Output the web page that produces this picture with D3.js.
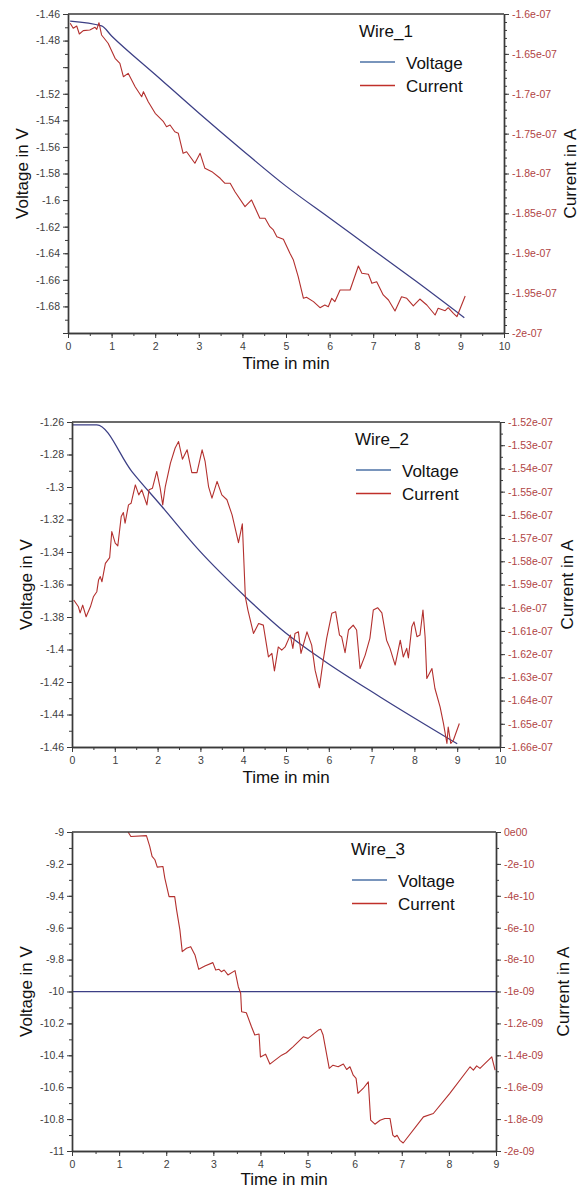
<!DOCTYPE html>
<html><head><meta charset="utf-8">
<script src="https://cdn.jsdelivr.net/npm/d3@7"></script>
<style>body{margin:0;background:#fff}svg{display:block}</style>
</head><body><svg id="c" width="581" height="1190"></svg>
<script>
// ---------- DATA ----------
// time in min, voltage in V
const wire1Voltage = [[0.05,-1.4653],[0.77,-1.469],[1.0,-1.4765],[2,-1.5055],[3,-1.5345],[4,-1.5625],[5,-1.5895],[6,-1.6135],[7,-1.6375],[8,-1.6615],[9.09,-1.6885]];
// current in units of 1e-7 A
const wire1Current = [[0.05,-1.6117],[0.12,-1.6179],[0.20,-1.6150],[0.26,-1.6251],[0.35,-1.6209],[0.50,-1.6201],[0.62,-1.6167],[0.66,-1.6192],[0.71,-1.6109],[0.77,-1.6263],[0.92,-1.6367],[1.08,-1.6555],[1.19,-1.6618],[1.27,-1.6786],[1.38,-1.6744],[1.54,-1.6912],[1.69,-1.7037],[1.73,-1.6974],[1.84,-1.7100],[2.00,-1.7245],[2.19,-1.7350],[2.26,-1.7413],[2.34,-1.7392],[2.45,-1.7476],[2.53,-1.7496],[2.64,-1.7747],[2.72,-1.7727],[2.91,-1.7872],[3.03,-1.7747],[3.14,-1.7935],[3.30,-1.7977],[3.49,-1.8060],[3.60,-1.8123],[3.72,-1.8123],[3.83,-1.8228],[4.06,-1.8416],[4.21,-1.8332],[4.40,-1.8562],[4.52,-1.8562],[4.63,-1.8667],[4.71,-1.8708],[4.79,-1.8792],[4.94,-1.8825],[5.09,-1.9000],[5.17,-1.9085],[5.28,-1.9294],[5.40,-1.9565],[5.47,-1.9552],[5.63,-1.9607],[5.78,-1.9683],[5.89,-1.9649],[5.97,-1.9670],[6.05,-1.9565],[6.12,-1.9607],[6.24,-1.9461],[6.47,-1.9461],[6.66,-1.9160],[6.74,-1.9251],[6.89,-1.9264],[6.97,-1.9377],[7.08,-1.9357],[7.23,-1.9523],[7.35,-1.9586],[7.50,-1.9724],[7.65,-1.9545],[7.77,-1.9565],[7.92,-1.9661],[8.07,-1.9574],[8.23,-1.9649],[8.42,-1.9774],[8.49,-1.9690],[8.65,-1.9720],[8.72,-1.9683],[8.84,-1.9753],[8.92,-1.9796],[9.11,-1.9536]];

const wire2Voltage = [[0,-1.2617],[0.58,-1.2617],[1.4,-1.2905],[2.1,-1.312],[2.96,-1.3387],[4.05,-1.3675],[4.98,-1.3895],[5.87,-1.4066],[7.2,-1.4292],[9.0,-1.458]];
// current in units of 1e-7 A
const wire2Current = [[0.04,-1.5967],[0.15,-1.5996],[0.19,-1.6022],[0.25,-1.5989],[0.33,-1.6039],[0.43,-1.5996],[0.50,-1.5953],[0.58,-1.5931],[0.62,-1.5881],[0.66,-1.5866],[0.70,-1.5888],[0.78,-1.5809],[0.88,-1.5784],[0.93,-1.5672],[1.01,-1.5722],[1.07,-1.5734],[1.15,-1.5607],[1.20,-1.5590],[1.24,-1.5636],[1.32,-1.5557],[1.38,-1.5550],[1.48,-1.5471],[1.56,-1.5514],[1.63,-1.5492],[1.75,-1.5557],[1.80,-1.5492],[1.88,-1.5485],[1.98,-1.5413],[2.06,-1.5485],[2.12,-1.5557],[2.18,-1.5478],[2.30,-1.5377],[2.41,-1.5312],[2.49,-1.5284],[2.58,-1.5360],[2.69,-1.5320],[2.80,-1.5418],[2.92,-1.5418],[3.04,-1.5320],[3.11,-1.5370],[3.19,-1.5478],[3.27,-1.5528],[3.39,-1.5456],[3.50,-1.5514],[3.62,-1.5535],[3.74,-1.5600],[3.89,-1.5720],[3.98,-1.5639],[4.05,-1.5953],[4.11,-1.6010],[4.24,-1.6111],[4.36,-1.6068],[4.47,-1.6075],[4.59,-1.6212],[4.67,-1.6197],[4.73,-1.6272],[4.82,-1.6169],[4.90,-1.6183],[4.98,-1.6169],[5.10,-1.6118],[5.16,-1.6175],[5.21,-1.6111],[5.29,-1.6104],[5.35,-1.6197],[5.49,-1.6104],[5.60,-1.6161],[5.68,-1.6269],[5.78,-1.6345],[5.87,-1.6226],[5.95,-1.6132],[6.07,-1.6024],[6.16,-1.6017],[6.25,-1.6118],[6.30,-1.6125],[6.38,-1.6194],[6.46,-1.6096],[6.57,-1.6075],[6.65,-1.6096],[6.73,-1.6262],[6.85,-1.6204],[6.96,-1.6132],[7.04,-1.6010],[7.14,-1.6000],[7.24,-1.6022],[7.35,-1.6140],[7.43,-1.6175],[7.55,-1.6247],[7.67,-1.6140],[7.74,-1.6212],[7.82,-1.6175],[7.86,-1.6216],[7.94,-1.6082],[7.99,-1.6061],[8.06,-1.6125],[8.13,-1.6118],[8.20,-1.6010],[8.25,-1.6125],[8.29,-1.6305],[8.41,-1.6262],[8.48,-1.6348],[8.60,-1.6427],[8.68,-1.6499],[8.76,-1.6585],[8.79,-1.6514],[8.85,-1.6585],[8.91,-1.6571],[9.05,-1.6499]];

const wire3Voltage = [[0,-10],[9,-10]];
// current in units of 1e-9 A
const wire3Current = [[1.19,0],[1.25,-0.028],[1.58,-0.023],[1.65,-0.090],[1.70,-0.153],[1.76,-0.174],[1.81,-0.220],[1.93,-0.216],[1.97,-0.289],[2.06,-0.405],[2.18,-0.405],[2.22,-0.488],[2.29,-0.614],[2.34,-0.750],[2.43,-0.729],[2.52,-0.719],[2.61,-0.771],[2.69,-0.861],[2.82,-0.840],[2.99,-0.819],[3.05,-0.865],[3.12,-0.861],[3.17,-0.876],[3.23,-0.865],[3.31,-0.896],[3.46,-0.869],[3.53,-0.970],[3.58,-1.011],[3.60,-1.127],[3.70,-1.133],[3.81,-1.221],[3.88,-1.273],[3.97,-1.267],[4.00,-1.410],[4.11,-1.393],[4.20,-1.455],[4.31,-1.430],[4.45,-1.399],[4.55,-1.384],[4.69,-1.347],[4.91,-1.284],[5.01,-1.294],[5.23,-1.242],[5.28,-1.236],[5.33,-1.273],[5.46,-1.482],[5.54,-1.462],[5.65,-1.472],[5.76,-1.455],[5.83,-1.489],[5.90,-1.472],[5.97,-1.525],[6.03,-1.545],[6.07,-1.639],[6.18,-1.608],[6.29,-1.567],[6.34,-1.807],[6.43,-1.832],[6.54,-1.807],[6.64,-1.796],[6.75,-1.796],[6.81,-1.901],[6.85,-1.912],[6.90,-1.901],[6.96,-1.933],[7.03,-1.950],[7.46,-1.786],[7.67,-1.765],[8.02,-1.639],[8.45,-1.472],[8.52,-1.493],[8.59,-1.466],[8.66,-1.482],[8.91,-1.410],[8.98,-1.493]];

// tick values and labels
const xTicks10 = [0,1,2,3,4,5,6,7,8,9,10];
const xTicks9 = [0,1,2,3,4,5,6,7,8,9];
const wire1VTicks = [-1.46,-1.48,-1.5,-1.52,-1.54,-1.56,-1.58,-1.6,-1.62,-1.64,-1.66,-1.68,-1.7];
const wire1VLabels = ["-1.46","-1.48","","-1.52","-1.54","-1.56","-1.58","-1.6","-1.62","-1.64","-1.66","-1.68",""];
const wire1ITicks = [-1.6,-1.65,-1.7,-1.75,-1.8,-1.85,-1.9,-1.95,-2];
const wire1ILabels = ["-1.6e-07","-1.65e-07","-1.7e-07","-1.75e-07","-1.8e-07","-1.85e-07","-1.9e-07","-1.95e-07","-2e-07"];
const wire2VTicks = [-1.26,-1.28,-1.3,-1.32,-1.34,-1.36,-1.38,-1.4,-1.42,-1.44,-1.46];
const wire2VLabels = ["-1.26","-1.28","-1.3","-1.32","-1.34","-1.36","-1.38","-1.4","-1.42","-1.44","-1.46"];
const wire2ITicks = [-1.52,-1.53,-1.54,-1.55,-1.56,-1.57,-1.58,-1.59,-1.6,-1.61,-1.62,-1.63,-1.64,-1.65,-1.66];
const wire2ILabels = ["-1.52e-07","-1.53e-07","-1.54e-07","-1.55e-07","-1.56e-07","-1.57e-07","-1.58e-07","-1.59e-07","-1.6e-07","-1.61e-07","-1.62e-07","-1.63e-07","-1.64e-07","-1.65e-07","-1.66e-07"];
const wire3VTicks = [-9,-9.2,-9.4,-9.6,-9.8,-10,-10.2,-10.4,-10.6,-10.8,-11];
const wire3VLabels = ["-9","-9.2","-9.4","-9.6","-9.8","-10","-10.2","-10.4","-10.6","-10.8","-11"];
const wire3ITicks = [0,-0.2,-0.4,-0.6,-0.8,-1,-1.2,-1.4,-1.6,-1.8,-2];
const wire3ILabels = ["0e00","-2e-10","-4e-10","-6e-10","-8e-10","-1e-09","-1.2e-09","-1.4e-09","-1.6e-09","-1.8e-09","-2e-09"];

const legendTitles = ["Wire_1","Wire_2","Wire_3"];
const seriesNames = ["Voltage","Current"];

// ---------- STYLE ----------
const FONT = "'Liberation Sans', Arial, sans-serif";
const V_COL = "#3c3f85", I_COL = "#b3302e";
const LEG_V = "#4d72a6", LEG_I = "#c0302a";
const AX_COL = "#3a3a3a", R_LAB = "#b04444", L_LAB = "#404040";

const svg = d3.select("#c");

function minorVals(d0, d1, step){
  const lo = Math.min(d0,d1), hi = Math.max(d0,d1);
  const n = Math.round((hi-lo)/step);
  return d3.range(n+1).map(i => +(lo + i*step).toFixed(6));
}

function panel(o){
  const g = svg.append("g");
  const x = d3.scaleLinear().domain([0,o.xMax]).range([o.l,o.r]);
  const yV = d3.scaleLinear().domain(o.vDom).range([o.b,o.t]);
  const yI = d3.scaleLinear().domain(o.iDom).range([o.b,o.t]);
  const id = "clip"+o.idx;
  svg.append("clipPath").attr("id",id).append("rect")
    .attr("x",o.l).attr("y",o.t).attr("width",o.r-o.l).attr("height",o.b-o.t);

  // lines
  const lineV = d3.line().curve(d3.curveMonotoneX).x(d=>x(d[0])).y(d=>yV(d[1]));
  const lineI = d3.line().x(d=>x(d[0])).y(d=>yI(d[1]));
  g.append("path").attr("clip-path",`url(#${id})`).attr("d",lineV(o.voltage))
    .attr("fill","none").attr("stroke",V_COL).attr("stroke-width",1.25);
  g.append("path").attr("clip-path",`url(#${id})`).attr("d",lineI(o.current))
    .attr("fill","none").attr("stroke",I_COL).attr("stroke-width",1.1).attr("stroke-linejoin","round");

  function styleAxis(sel, labCol){
    sel.attr("font-family",FONT).attr("font-size",10.5).attr("color",AX_COL);
    sel.selectAll("path.domain").attr("stroke",AX_COL).attr("stroke-width",1.4);
    sel.selectAll("line").attr("stroke",AX_COL).attr("stroke-width",1);
    sel.selectAll("text").attr("fill",labCol);
  }
  // minor ticks
  g.append("g").attr("transform",`translate(0,${o.b})`)
    .call(d3.axisBottom(x).tickValues(minorVals(0,o.xMax,0.5)).tickSize(3).tickSizeOuter(0).tickFormat(""))
    .call(s=>styleAxis(s,L_LAB));
  g.append("g").attr("transform",`translate(${o.l},0)`)
    .call(d3.axisLeft(yV).tickValues(minorVals(o.vDom[0],o.vDom[1],o.vMinor)).tickSize(3).tickSizeOuter(0).tickFormat(""))
    .call(s=>styleAxis(s,L_LAB));
  g.append("g").attr("transform",`translate(${o.r},0)`)
    .call(d3.axisRight(yI).tickValues(minorVals(o.iDom[0],o.iDom[1],o.iMinor)).tickSize(3).tickSizeOuter(0).tickFormat(""))
    .call(s=>styleAxis(s,R_LAB));
  // major ticks
  g.append("g").attr("transform",`translate(0,${o.b})`)
    .call(d3.axisBottom(x).tickValues(o.xTicks).tickSize(5).tickPadding(5).tickSizeOuter(0).tickFormat(d=>String(d)))
    .call(s=>styleAxis(s,L_LAB));
  g.append("g").attr("transform",`translate(${o.l},0)`)
    .call(d3.axisLeft(yV).tickValues(o.vTicks).tickSize(5).tickPadding(3).tickSizeOuter(0).tickFormat((d,i)=>o.vLabels[i]))
    .call(s=>styleAxis(s,L_LAB));
  g.append("g").attr("transform",`translate(${o.r},0)`)
    .call(d3.axisRight(yI).tickValues(o.iTicks).tickSize(5).tickPadding(3).tickSizeOuter(0).tickFormat((d,i)=>o.iLabels[i]))
    .call(s=>styleAxis(s,R_LAB));
  // top border
  g.append("line").attr("x1",o.l).attr("x2",o.r).attr("y1",o.t).attr("y2",o.t)
    .attr("stroke",AX_COL).attr("stroke-width",1.4);

  // axis titles
  g.append("text").attr("transform",`translate(${o.l-40},${(o.t+o.b)/2}) rotate(-90)`)
    .attr("text-anchor","middle").attr("font-family",FONT).attr("font-size",17).attr("fill","#111")
    .text("Voltage in V");
  g.append("text").attr("transform",`translate(${Math.min(o.r+73,576)},${(o.t+o.b)/2}) rotate(-90)`)
    .attr("text-anchor","middle").attr("font-family",FONT).attr("font-size",17).attr("fill","#111")
    .text("Current in A");
  g.append("text").attr("x",(o.l+o.r)/2).attr("y",Math.min(o.b+36,1185))
    .attr("text-anchor","middle").attr("font-family",FONT).attr("font-size",17).attr("fill","#111")
    .text("Time  in min");

  // legend
  const lx = o.r-145;
  g.append("text").attr("x",lx).attr("y",o.t+23).attr("font-family",FONT).attr("font-size",17).attr("fill","#111").text(o.title);
  const cols = [LEG_V, LEG_I];
  seriesNames.forEach((nm,i)=>{
    const ly = o.t + 48 + i*23.5;
    g.append("line").attr("x1",lx+1).attr("x2",lx+36).attr("y1",ly).attr("y2",ly)
      .attr("stroke",cols[i]).attr("stroke-width",1.4);
    g.append("text").attr("x",lx+47).attr("y",ly+6.5).attr("font-family",FONT).attr("font-size",17).attr("fill","#111").text(nm);
  });
}

panel({idx:1,l:68,r:504,t:14,b:333,xMax:10,xTicks:xTicks10,
  vDom:[-1.7,-1.46],vTicks:wire1VTicks,vLabels:wire1VLabels,vMinor:0.01,
  iDom:[-2,-1.6],iTicks:wire1ITicks,iLabels:wire1ILabels,iMinor:0.01,
  voltage:wire1Voltage,current:wire1Current,title:legendTitles[0]});
panel({idx:2,l:72,r:500,t:422,b:747,xMax:10,xTicks:xTicks10,
  vDom:[-1.46,-1.26],vTicks:wire2VTicks,vLabels:wire2VLabels,vMinor:0.01,
  iDom:[-1.66,-1.52],iTicks:wire2ITicks,iLabels:wire2ILabels,iMinor:0.005,
  voltage:wire2Voltage,current:wire2Current,title:legendTitles[1]});
panel({idx:3,l:72,r:496,t:832,b:1151,xMax:9,xTicks:xTicks9,
  vDom:[-11,-9],vTicks:wire3VTicks,vLabels:wire3VLabels,vMinor:0.1,
  iDom:[-2,0],iTicks:wire3ITicks,iLabels:wire3ILabels,iMinor:0.1,
  voltage:wire3Voltage,current:wire3Current,title:legendTitles[2]});
</script></body></html>
